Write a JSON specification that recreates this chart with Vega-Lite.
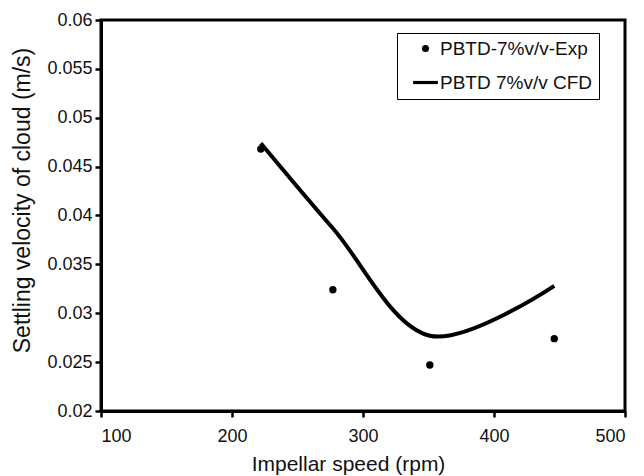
{
  "$schema": "https://vega.github.io/schema/vega-lite/v6.json",
  "autosize": {"type": "none"},
  "padding": {"left": 101, "top": 20, "right": 19, "bottom": 65},
  "width": 524,
  "height": 391,
  "background": "white",
  "config": {
    "font": "Liberation Sans",
    "view": {"stroke": "black", "strokeWidth": 3},
    "axis": {
      "domainColor": "black", "domainWidth": 3,
      "tickColor": "black", "tickWidth": 2.5, "tickSize": 6,
      "labelFont": "Liberation Sans", "labelFontSize": 18, "labelColor": "#111",
      "titleFont": "Liberation Sans", "titleFontSize": 21, "titleFontWeight": "normal", "titleColor": "#111",
      "grid": false
    }
  },
  "datasets": {
    "exp": [
      {"speed": 222, "velocity": 0.0468, "series": "PBTD-7%v/v-Exp"},
      {"speed": 277, "velocity": 0.0324, "series": "PBTD-7%v/v-Exp"},
      {"speed": 351, "velocity": 0.0247, "series": "PBTD-7%v/v-Exp"},
      {"speed": 446, "velocity": 0.0274, "series": "PBTD-7%v/v-Exp"}
    ],
    "cfd": [
      {"speed": 222, "velocity": 0.0474, "series": "PBTD 7%v/v CFD"},
      {"speed": 277, "velocity": 0.0387, "series": "PBTD 7%v/v CFD"},
      {"speed": 351, "velocity": 0.0277, "series": "PBTD 7%v/v CFD"},
      {"speed": 446, "velocity": 0.0328, "series": "PBTD 7%v/v CFD"}
    ]
  },
  "layer": [
    {
      "data": {"name": "cfd"},
      "mark": {"type": "line", "interpolate": "catmull-rom", "color": "black", "strokeWidth": 4},
      "encoding": {
        "x": {"field": "speed", "type": "quantitative", "scale": {"domain": [100, 500], "nice": false},
          "axis": {"title": "Impellar speed (rpm)", "values": [100, 200, 300, 400, 500], "labelPadding": 10,
            "titleX": 247, "titleY": 59, "titleBaseline": "alphabetic"}},
        "y": {"field": "velocity", "type": "quantitative", "scale": {"domain": [0.02, 0.06], "nice": false, "zero": false},
          "axis": {"title": "Settling velocity of cloud (m/s)", "values": [0.02, 0.025, 0.03, 0.035, 0.04, 0.045, 0.05, 0.055, 0.06], "format": ".3~f", "labelPadding": 3,
            "titleFontSize": 23, "titleX": -72, "titleY": 180, "titleBaseline": "alphabetic"}}
      }
    },
    {
      "data": {"name": "exp"},
      "mark": {"type": "point", "filled": true, "color": "black", "size": 55, "opacity": 1},
      "encoding": {
        "x": {"field": "speed", "type": "quantitative"},
        "y": {"field": "velocity", "type": "quantitative"}
      }
    },
    {
      "data": {"values": [{"series": "PBTD-7%v/v-Exp"}, {"series": "PBTD 7%v/v CFD"}]},
      "mark": {"type": "point", "fill": "black", "stroke": "black", "strokeWidth": 2.5, "opacity": 0},
      "encoding": {
        "shape": {"field": "series", "type": "nominal",
          "scale": {"domain": ["PBTD-7%v/v-Exp", "PBTD 7%v/v CFD"], "range": ["circle", "M -3.5 -0.45 L 3.5 -0.45 L 3.5 0.45 L -3.5 0.45 Z"]},
          "legend": {
            "title": null, "orient": "none", "legendX": 296, "legendY": 13,
            "strokeColor": "black", "fillColor": "white", "padding": 6,
            "labelFont": "Liberation Sans", "labelFontSize": 19, "labelColor": "#111",
            "symbolSize": 50, "rowPadding": 14, "labelOffset": 5, "symbolOffset": 13,
            "symbolOpacity": 1, "symbolFillColor": "black", "symbolStrokeColor": "black", "symbolStrokeWidth": 0
          }
        }
      }
    }
  ]
}
